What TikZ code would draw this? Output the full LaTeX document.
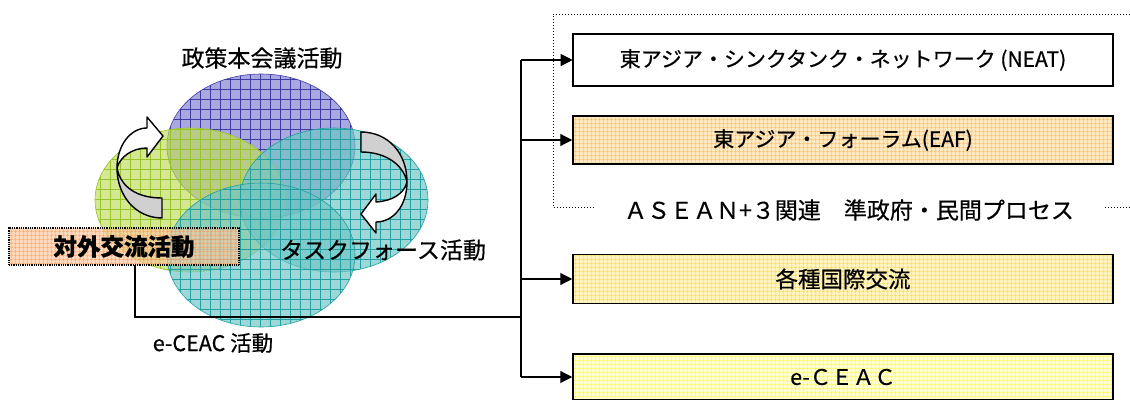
\documentclass[tikz,border=0pt]{standalone}
\usepackage{fontspec}
\setmainfont{Noto Sans CJK JP}[FakeBold=0.5]
\usetikzlibrary{arrows.meta,patterns.meta}

\definecolor{PolicyFill}{HTML}{8080D0}
\definecolor{PolicyGrid}{HTML}{3C3CA4}
\definecolor{OutFill}{HTML}{C0DC60}
\definecolor{OutGrid}{HTML}{98C428}
\definecolor{TealFill}{HTML}{70C4C4}
\definecolor{TealGrid}{HTML}{20A0A0}
\definecolor{OrangeFill}{HTML}{FCC8A0}
\definecolor{OrangeGrid}{HTML}{F89050}
\definecolor{EafFill}{HTML}{FDE8C0}
\definecolor{EafGrid}{HTML}{F8C070}
\definecolor{KokusaiFill}{HTML}{FFF4C0}
\definecolor{KokusaiGrid}{HTML}{F8D860}
\definecolor{CeacFill}{HTML}{FFFFD0}
\definecolor{CeacGrid}{HTML}{FFF850}
\definecolor{BackFace}{HTML}{D0D0D0}

\begin{document}
\begin{tikzpicture}[x=1pt,y=-1pt,
    blob/.style 2 args={fill opacity=0.68, draw=#2, line width=0.6pt,
      preaction={fill=#1, fill opacity=0.68},
      pattern={Hatch[angle=0,distance=10pt,line width=0.7pt]}, pattern color=#2},
    box/.style 2 args={draw, line width=1.5pt, minimum width=540pt,
      preaction={fill=#1},
      pattern={Hatch[angle=0,distance=4pt,line width=0.6pt]}, pattern color=#2},
    label/.style={font=\fontsize{23}{24}\selectfont},
    link/.style={line width=1.2pt},
    tip/.style={-{Triangle[length=12pt,width=12pt]}},
    curl/.style={line width=1.4pt, line join=round}]
  \useasboundingbox (0,0) rectangle (1130,399);

  % the four activity circles
  \path[blob={PolicyFill}{PolicyGrid}] (261,146) ellipse [x radius=94, y radius=72];
  \path[blob={OutFill}{OutGrid}]       (190,200) ellipse [x radius=95, y radius=72];
  \path[blob={TealFill}{TealGrid}]     (334,200) ellipse [x radius=94, y radius=72];
  \path[blob={TealFill}{TealGrid}]     (261,255) ellipse [x radius=94, y radius=72];

  % left curl, turning upwards
  \filldraw[curl, fill=BackFace] (117,168) .. controls (117,196) and (136,218) .. (162,218)
    -- (162,198) .. controls (138,198) and (121,188) .. (117,168) -- cycle;
  \filldraw[curl, fill=white] (117,168) .. controls (117,146) and (130,128) .. (147,128)
    -- (147,117) -- (163,136) -- (147,157) -- (147,148)
    .. controls (132,148) and (120,157) .. (117,168) -- cycle;

  % right curl, turning downwards
  \filldraw[curl, fill=BackFace] (407,182) .. controls (407,153) and (388,132) .. (361,132)
    -- (361,152) .. controls (385,152) and (403,164) .. (407,182) -- cycle;
  \filldraw[curl, fill=white] (407,182) .. controls (407,206) and (393,222) .. (376,222)
    -- (376,233) -- (361,214) -- (376,194) -- (376,202)
    .. controls (392,201) and (404,194) .. (407,182) -- cycle;

  \node[label] (policy)    at (262,58)  {政策本会議活動};
  \node[label] (taskforce) at (383,250) {タスクフォース活動};
  \node[label, font=\fontsize{21.5}{24}\selectfont] (ceac) at (213,343) {e-CEAC 活動};
  \node[draw, densely dotted, line width=1.5pt, minimum width=230pt, minimum height=37pt,
        fill opacity=0.7, text opacity=1, preaction={fill=OrangeFill, fill opacity=0.7},
        pattern={Hatch[angle=0,distance=4pt,line width=0.8pt]}, pattern color=OrangeGrid,
        font=\fontsize{23.5}{24}\selectfont\bfseries] (outreach) at (124,246.5) {対外交流活動};

  % ASEAN+3 group frame
  \node[font=\fontsize{23}{24}\selectfont] (asean) at (849,210)
    {ＡＳＥＡＮ+３関連　準政府・民間プロセス};
  \coordinate (frame left)  at (553,207);
  \coordinate (frame right) at (1130,207);
  \draw[dotted, line width=1pt] (1130,14) -- (553,14) -- (frame left) -- (595,207);
  \draw[dotted, line width=1pt] (1105,207) -- (frame right);

  % programmes
  \node[box={white}{white}, minimum height=52pt, font=\fontsize{21}{24}\selectfont]
    (neat) at (843,60) {東アジア・シンクタンク・ネットワーク (NEAT)};
  \node[box={EafFill}{EafGrid}, minimum height=48pt, font=\fontsize{21}{24}\selectfont]
    (eaf) at (843,140) {東アジア・フォーラム(EAF)};
  \node[box={KokusaiFill}{KokusaiGrid}, minimum height=49pt, font=\fontsize{22.5}{24}\selectfont]
    (kokusai) at (843,279) {各種国際交流};
  \node[box={CeacFill}{CeacGrid}, minimum height=46pt, font=\fontsize{21.5}{24}\selectfont]
    (ceac box) at (843,377) {e-ＣＥＡＣ};

  % feeder line and trunk
  \coordinate (drop)     at (135,317);
  \coordinate (trunk)    at (521,317);
  \coordinate (to neat)  at (521,60);
  \coordinate (to eaf)   at (521,140);
  \coordinate (to kokusai) at (521,279);
  \coordinate (to ceac)  at (521,377);
  \draw[link] (outreach.south -| drop) -- (drop) -- (trunk);
  \draw[link] (to neat) -- (to ceac);
  \draw[link, tip] (to neat) -- (neat);
  \draw[link, tip] (to eaf) -- (eaf);
  \draw[link, tip] (to kokusai) -- (kokusai);
  \draw[link, tip] (to ceac) -- (ceac box);
\end{tikzpicture}
\end{document}
